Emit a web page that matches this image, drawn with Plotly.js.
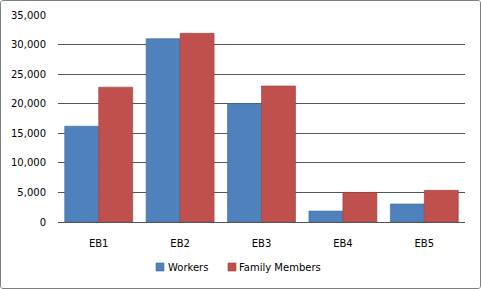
<!DOCTYPE html>
<html><head><meta charset="utf-8">
<script src="https://cdn.plot.ly/plotly-3.0.1.min.js"></script>
<style>
html,body{margin:0;padding:0;background:#fff;}
#wrap{position:absolute;left:0;top:0;width:481px;height:289px;box-sizing:border-box;border:1px solid #7f7f7f;border-radius:3px;overflow:hidden;}
#chart{width:479px;height:287px;}
</style></head>
<body><div id="wrap"><div id="chart"></div></div>
<script>
var categories = ['EB1','EB2','EB3','EB4','EB5'];
var seriesNames = ['Workers','Family Members'];
var workers = [16200, 31000, 20000, 1850, 3050];
var familyMembers = [22800, 31900, 23000, 5000, 5350];
var yTickVals = [0,5000,10000,15000,20000,25000,30000,35000];
var yTickText = ['0','5,000','10,000','15,000','20,000','25,000','30,000','35,000'];

var colors = ['#4F81BD','#C0504D'];
var edges = ['#3F6C9E','#9B3C3A'];
var font = {family:'DejaVu Sans, Verdana, sans-serif', size:10, color:'#000'};
var series = [workers, familyMembers];
var data = series.map(function(vals,i){
  return {type:'bar', name:seriesNames[i], x:categories, y:vals,
    marker:{color:colors[i], line:{color:edges[i], width:0.6}}};
});

// custom legend (small squares + labels) under the plot
var legX = [[0.2408,0.2604,0.2671],[0.4177,0.4373,0.4423]];
var shapes = [], annotations = [];
seriesNames.forEach(function(n,i){
  shapes.push({type:'rect', xref:'paper', yref:'paper', x0:legX[i][0], x1:legX[i][1], y0:-0.2367, y1:-0.198,
    fillcolor:colors[i], line:{color:edges[i], width:0.6}});
  annotations.push({xref:'paper', yref:'paper', x:legX[i][2], y:-0.2174, xanchor:'left', yanchor:'middle',
    text:n, showarrow:false, font:font, borderpad:0});
});

var layout = {
 width:479, height:287,
 margin:{l:57, r:15, t:14, b:66},
 paper_bgcolor:'#fff', plot_bgcolor:'#fff',
 font:font,
 barmode:'group', bargap:0.165, bargroupgap:0,
 showlegend:false,
 shapes:shapes, annotations:annotations,
 xaxis:{showgrid:false, showline:true, linecolor:'#555', linewidth:1, ticks:'', tickfont:font, fixedrange:true, ticklabelstandoff:12, automargin:false},
 yaxis:{range:[0,35000], tickvals:yTickVals, ticktext:yTickText, showgrid:true, gridcolor:'#555', gridwidth:1,
  zeroline:false, showline:false, ticks:'', tickfont:font, fixedrange:true, ticklabelstandoff:11, automargin:false}
};
Plotly.newPlot('chart', data, layout, {displayModeBar:false, staticPlot:true});
</script></body></html>
